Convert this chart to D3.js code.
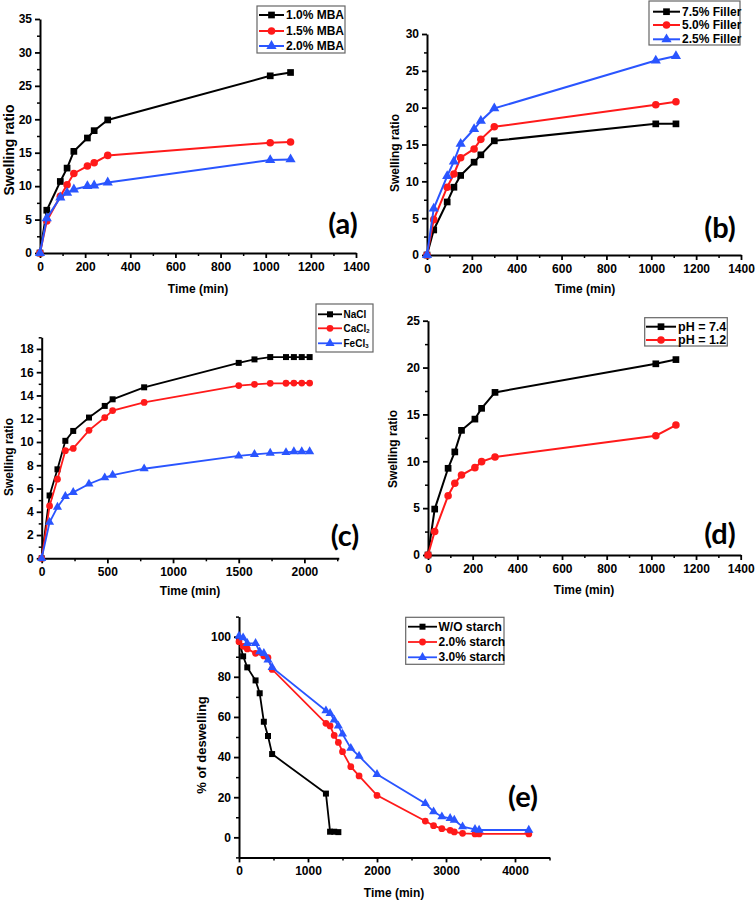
<!DOCTYPE html>
<html><head><meta charset="utf-8">
<script src="https://cdn.jsdelivr.net/npm/d3@7/dist/d3.min.js"></script>
<style>
html,body{margin:0;padding:0;background:#fff;}
svg text{font-family:"Liberation Sans",Arial,sans-serif;font-weight:bold;fill:#000;}
</style></head>
<body>
<svg id="chart" width="756" height="902"></svg>
<script>
// ---------------- DATA ----------------
const timeAB = [0, 30, 90, 120, 150, 210, 240, 300, 1020, 1110];
const mba10 = [0, 6.4, 10.7, 12.7, 15.2, 17.2, 18.3, 19.9, 26.5, 27.0];
const mba15 = [0, 4.8, 8.5, 10.2, 11.9, 13.0, 13.5, 14.6, 16.5, 16.6];
const mba20 = [0, 5.2, 8.3, 9.0, 9.5, 10.0, 10.1, 10.55, 13.9, 14.0];

const filler75 = [0, 3.4, 7.2, 9.2, 10.8, 12.6, 13.6, 15.5, 17.8, 17.8];
const filler50 = [0, 4.8, 9.2, 11.0, 13.2, 14.4, 15.7, 17.4, 20.4, 20.8];
const filler25 = [0, 6.3, 10.7, 12.7, 15.1, 17.1, 18.2, 19.9, 26.4, 27.0];

const timeC = [0, 60, 120, 180, 240, 360, 480, 540, 780, 1500, 1620, 1740, 1860, 1920, 1980, 2040];
const nacl  = [0, 5.4, 7.65, 10.1, 10.95, 12.1, 13.1, 13.67, 14.7, 16.8, 17.1, 17.3, 17.3, 17.3, 17.3, 17.3];
const cacl2 = [0, 4.5, 6.8, 9.25, 9.45, 11.0, 12.1, 12.7, 13.4, 14.85, 14.96, 15.04, 15.05, 15.07, 15.07, 15.07];
const fecl3 = [0, 3.1, 4.4, 5.33, 5.67, 6.39, 6.93, 7.16, 7.7, 8.8, 8.94, 9.05, 9.1, 9.17, 9.17, 9.17];

const timeD = [0, 30, 90, 120, 150, 210, 240, 300, 1020, 1110];
const ph74 = [0, 4.9, 9.25, 11.0, 13.3, 14.5, 15.65, 17.35, 20.4, 20.85];
const ph12 = [0, 2.5, 6.33, 7.65, 8.53, 9.32, 9.96, 10.45, 12.73, 13.87];

const timeE0 = [0, 60, 120, 240, 300, 360, 420, 480, 1260, 1320, 1380, 1440];
const noStarch = [98, 90.2, 84.7, 78.2, 71.8, 57.6, 50.5, 41.5, 21.8, 2.8, 2.8, 2.6];
const timeE2 = [0, 60, 120, 240, 360, 420, 480, 1260, 1320, 1380, 1440, 1500, 1620, 1740, 2000, 2700, 2820, 2940, 3060, 3120, 3240, 3420, 3480, 4200];
const starch20 = [97.5, 95.2, 93.9, 91.7, 90.4, 89.5, 83.7, 56.8, 55.5, 50.8, 47.3, 42.7, 35.2, 30.6, 20.9, 8.1, 5.8, 4.3, 3.5, 2.7, 2.0, 1.7, 1.7, 1.7];
const timeE3 = [0, 60, 120, 240, 300, 360, 420, 480, 1260, 1320, 1380, 1440, 1500, 1620, 1740, 2000, 2700, 2820, 2940, 3060, 3120, 3240, 3420, 3480, 4200];
const starch30 = [100.3, 99.5, 96.7, 96.7, 92.5, 91.7, 88.4, 84.7, 63.1, 61.8, 58.5, 55.5, 51.5, 44.4, 40.5, 31.4, 16.9, 12.8, 10.3, 9.5, 8.6, 5.3, 4.0, 3.65, 3.65];

const labelsA = ["1.0% MBA", "1.5% MBA", "2.0% MBA"];
const labelsB = ["7.5% Filler", "5.0% Filler", "2.5% Filler"];
const labelsC = [["NaCl", ""], ["CaCl", "2"], ["FeCl", "3"]];
const labelsD = ["pH = 7.4", "pH = 1.2"];
const labelsE = ["W/O starch", "2.0% starch", "3.0% starch"];

const xTicks1400 = [0, 200, 400, 600, 800, 1000, 1200, 1400];
const xMinor1400 = [100, 300, 500, 700, 900, 1100, 1300];
const xTicksC = [0, 500, 1000, 1500, 2000];
const xMinorC = [250, 750, 1250, 1750, 2250];
const xTicksE = [0, 1000, 2000, 3000, 4000];
const xMinorE = [500, 1500, 2500, 3500, 4500];

// ---------------- STYLE ----------------
const BLACK = "#000000", RED = "#ff1a1a", BLUE = "#2a55ff";
const svg = d3.select("#chart");
const fmt = d3.format("d");

function sym(type, size) {
  const t = type === "square" ? d3.symbolSquare : type === "circle" ? d3.symbolCircle : d3.symbolTriangle;
  return d3.symbol().type(t).size(size)();
}

function panel(cfg) {
  const g = svg.append("g");
  const x = d3.scaleLinear().domain(cfg.xDomain).range(cfg.xRange);
  const y = d3.scaleLinear().domain(cfg.yDomain).range(cfg.yRange);
  const y0 = cfg.yRange[0];
  const x0 = cfg.xRange[0];

  // minor ticks
  g.append("g").attr("transform", `translate(0,${y0})`)
    .call(d3.axisBottom(x).tickValues(cfg.xMinor).tickSize(3).tickSizeOuter(0).tickFormat(""))
    .call(a => a.select(".domain").remove())
    .call(a => a.selectAll("line").attr("stroke-width", 1.5));
  g.append("g").attr("transform", `translate(${x0},0)`)
    .call(d3.axisLeft(y).tickValues(cfg.yMinor).tickSize(3).tickSizeOuter(0).tickFormat(""))
    .call(a => a.select(".domain").remove())
    .call(a => a.selectAll("line").attr("stroke-width", 1.5));

  // major axes
  const fs = cfg.tickFont || 12;
  g.append("g").attr("transform", `translate(0,${y0})`)
    .call(d3.axisBottom(x).tickValues(cfg.xTicks).tickFormat(fmt).tickSize(5).tickSizeOuter(0).tickPadding(4))
    .call(a => a.select(".domain").attr("stroke-width", 2))
    .call(a => a.selectAll("line").attr("stroke-width", 1.8))
    .call(a => a.selectAll("text").attr("font-size", fs).attr("font-family", "Liberation Sans, Arial").attr("font-weight", "bold"));
  g.append("g").attr("transform", `translate(${x0},0)`)
    .call(d3.axisLeft(y).tickValues(cfg.yTicks).tickFormat(fmt).tickSize(5).tickSizeOuter(0).tickPadding(3))
    .call(a => a.select(".domain").attr("stroke-width", 2))
    .call(a => a.selectAll("line").attr("stroke-width", 1.8))
    .call(a => a.selectAll("text").attr("font-size", fs).attr("font-family", "Liberation Sans, Arial").attr("font-weight", "bold"));

  // series
  const line = d3.line().x(d => x(d[0])).y(d => y(d[1]));
  cfg.series.forEach(s => {
    const pts = s.t.map((t, i) => [t, s.v[i]]);
    g.append("path").datum(pts).attr("d", line)
      .attr("fill", "none").attr("stroke", s.color).attr("stroke-width", cfg.lw || 2);
    g.selectAll(null).data(pts).enter().append("path")
      .attr("d", sym(s.shape, cfg.msize || 45))
      .attr("transform", d => `translate(${x(d[0])},${y(d[1])})`)
      .attr("fill", s.color);
  });

  // axis titles
  g.append("text").attr("x", cfg.xLabel[0]).attr("y", cfg.xLabel[1])
    .attr("text-anchor", "middle").attr("font-size", cfg.xLabel[2]).text("Time (min)");
  g.append("text").attr("transform", `translate(${cfg.yLabel[0]},${cfg.yLabel[1]}) rotate(-90)`)
    .attr("text-anchor", "middle").attr("dominant-baseline", "central")
    .attr("font-size", cfg.yLabel[2]).text(cfg.yTitle);

  // panel letter
  g.append("text").attr("x", cfg.letter[0]).attr("y", cfg.letter[1])
    .attr("text-anchor", "middle").attr("dominant-baseline", "central")
    .style("font-family", "Lato, 'Open Sans', sans-serif").style("font-weight", "bold")
    .attr("font-size", 29).text(cfg.letterText);

  // legend
  const L = cfg.legend;
  g.append("rect").attr("x", L.box[0]).attr("y", L.box[1])
    .attr("width", L.box[2] - L.box[0]).attr("height", L.box[3] - L.box[1])
    .attr("fill", "#fff").attr("stroke", "#666").attr("stroke-width", 1.2);
  cfg.series.forEach((s, i) => {
    const ey = L.ys[i];
    g.append("line").attr("x1", L.line[0]).attr("x2", L.line[1]).attr("y1", ey).attr("y2", ey)
      .attr("stroke", s.color).attr("stroke-width", cfg.lw || 2);
    g.append("path").attr("d", sym(s.shape, cfg.msize || 45))
      .attr("transform", `translate(${(L.line[0] + L.line[1]) / 2},${ey})`).attr("fill", s.color);
    const tx = g.append("text").attr("x", L.textX).attr("y", ey)
      .attr("dominant-baseline", "central").attr("font-size", L.fs);
    const lab = s.label;
    if (Array.isArray(lab)) {
      tx.append("tspan").text(lab[0]);
      if (lab[1]) tx.append("tspan").attr("font-size", L.fs * 0.6).attr("dy", 3).text(lab[1]);
    } else tx.text(lab);
  });
}

// (a)
panel({
  xDomain: [0, 1400], xRange: [40, 356], yDomain: [0, 35], yRange: [253, 19],
  xTicks: xTicks1400, xMinor: xMinor1400,
  yTicks: [0, 5, 10, 15, 20, 25, 30, 35], yMinor: [2.5, 7.5, 12.5, 17.5, 22.5, 27.5, 32.5],
  series: [
    {t: timeAB, v: mba10, color: BLACK, shape: "square", label: labelsA[0]},
    {t: timeAB, v: mba15, color: RED, shape: "circle", label: labelsA[1]},
    {t: timeAB, v: mba20, color: BLUE, shape: "triangle", label: labelsA[2]}
  ],
  xLabel: [198, 293, 12], yLabel: [9, 150, 14], yTitle: "Swelling ratio",
  letter: [343, 222], letterText: "(a)",
  legend: {box: [257, 6, 345, 53], ys: [15, 31, 46], line: [259, 284], textX: 286, fs: 12}
});

// (b)
panel({
  xDomain: [0, 1400], xRange: [427, 741], yDomain: [0, 30], yRange: [255, 34],
  xTicks: xTicks1400, xMinor: xMinor1400,
  yTicks: [0, 5, 10, 15, 20, 25, 30], yMinor: [2.5, 7.5, 12.5, 17.5, 22.5, 27.5],
  series: [
    {t: timeAB, v: filler75, color: BLACK, shape: "square", label: labelsB[0]},
    {t: timeAB, v: filler50, color: RED, shape: "circle", label: labelsB[1]},
    {t: timeAB, v: filler25, color: BLUE, shape: "triangle", label: labelsB[2]}
  ],
  xLabel: [585, 293, 12], yLabel: [395, 153, 12], yTitle: "Swelling ratio",
  letter: [720, 226], letterText: "(b)",
  legend: {box: [649, 1, 740, 45], ys: [11.7, 25, 39.3], line: [653, 680], textX: 682, fs: 12}
});

// (c)
panel({
  xDomain: [0, 2262], xRange: [41.7, 338.8], yDomain: [0, 19], yRange: [558.3, 337.3],
  xTicks: xTicksC, xMinor: xMinorC,
  yTicks: [0, 2, 4, 6, 8, 10, 12, 14, 16, 18], yMinor: [1, 3, 5, 7, 9, 11, 13, 15, 17, 19],
  msize: 36, lw: 1.8,
  series: [
    {t: timeC, v: nacl, color: BLACK, shape: "square", label: labelsC[0]},
    {t: timeC, v: cacl2, color: RED, shape: "circle", label: labelsC[1]},
    {t: timeC, v: fecl3, color: BLUE, shape: "triangle", label: labelsC[2]}
  ],
  xLabel: [190, 595, 12], yLabel: [9, 457, 12], yTitle: "Swelling ratio",
  letter: [345, 534], letterText: "(c)",
  legend: {box: [316, 304, 373, 352], ys: [314.3, 328.3, 343.3], line: [318, 342], textX: 343.5, fs: 10}
});

// (d)
panel({
  xDomain: [0, 1400], xRange: [428, 740.7], yDomain: [0, 25], yRange: [555, 320.7],
  xTicks: xTicks1400, xMinor: xMinor1400,
  yTicks: [0, 5, 10, 15, 20, 25], yMinor: [2.5, 7.5, 12.5, 17.5, 22.5],
  series: [
    {t: timeD, v: ph74, color: BLACK, shape: "square", label: labelsD[0]},
    {t: timeD, v: ph12, color: RED, shape: "circle", label: labelsD[1]}
  ],
  xLabel: [584, 594, 12], yLabel: [393, 449, 12], yTitle: "Swelling ratio",
  letter: [720, 532], letterText: "(d)",
  legend: {box: [644.7, 317.7, 727.3, 346], ys: [326.7, 340], line: [646, 676], textX: 678, fs: 12.5}
});

// (e)
panel({
  xDomain: [0, 4500], xRange: [239, 549.5], yDomain: [-10, 110], yRange: [857.4, 616.6],
  xTicks: xTicksE, xMinor: xMinorE,
  yTicks: [0, 20, 40, 60, 80, 100], yMinor: [-10, 10, 30, 50, 70, 90, 110],
  msize: 36, lw: 1.8,
  series: [
    {t: timeE0, v: noStarch, color: BLACK, shape: "square", label: labelsE[0]},
    {t: timeE2, v: starch20, color: RED, shape: "circle", label: labelsE[1]},
    {t: timeE3, v: starch30, color: BLUE, shape: "triangle", label: labelsE[2]}
  ],
  xLabel: [394, 897, 12], yLabel: [201, 745, 13], yTitle: "% of deswelling",
  letter: [523, 795], letterText: "(e)",
  legend: {box: [405.7, 617.3, 504, 664.3], ys: [626.7, 642, 657.3], line: [408, 437], textX: 438.5, fs: 12}
});
</script>
</body></html>
